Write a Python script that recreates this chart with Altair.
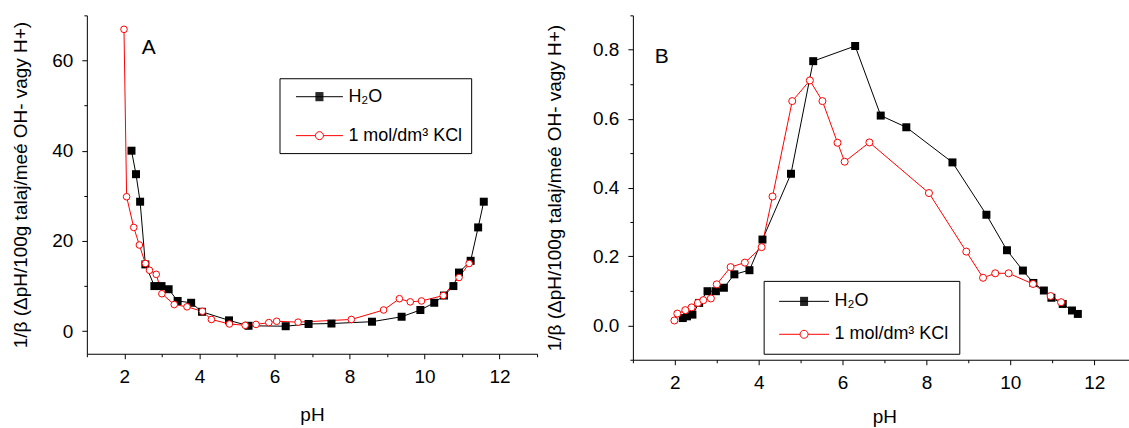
import altair as alt
import pandas as pd

SERIES = ["H₂O", "1 mol/dm³ KCl"]
COLORS = ["#000000", "#ff0000"]
Y_TITLE = "1/β (ΔpH/100g talaj/meé OH- vagy H+)"

# Panel A
A_H2O_PH = [2.19, 2.31, 2.42, 2.56, 2.80, 2.99, 3.18, 3.42, 3.78, 4.07, 4.79, 5.31, 6.30,
            6.91, 7.52, 8.60, 9.39, 9.89, 10.26, 10.52, 10.77, 10.92, 11.23, 11.43, 11.58]
A_H2O_VAL = [40.0, 34.8, 28.7, 14.8, 10.0, 10.0, 9.3, 6.7, 6.3, 4.3, 2.4, 1.2, 1.1,
             1.6, 1.7, 2.1, 3.2, 4.7, 6.3, 7.9, 10.0, 13.0, 15.6, 23.0, 28.7]
A_KCL_PH = [1.99, 2.06, 2.25, 2.40, 2.56, 2.67, 2.85, 3.00, 3.33, 3.67, 4.08, 4.32, 4.80,
            5.22, 5.51, 5.85, 6.06, 6.63, 8.05, 8.91, 9.33, 9.62, 9.92, 10.50, 10.92, 11.19]
A_KCL_VAL = [66.9, 29.8, 23.0, 19.1, 15.0, 13.5, 12.6, 8.3, 5.9, 5.4, 4.4, 2.6, 1.6,
             1.3, 1.5, 1.9, 2.2, 2.0, 2.6, 4.7, 7.2, 6.5, 6.7, 7.9, 11.9, 15.0]

# Panel B
B_H2O_PH = [2.19, 2.29, 2.42, 2.58, 2.78, 2.98, 3.17, 3.42, 3.78, 4.09, 4.77, 5.30, 6.30,
            6.91, 7.52, 8.62, 9.43, 9.92, 10.30, 10.55, 10.80, 10.98, 11.25, 11.47, 11.61]
B_H2O_VAL = [0.021, 0.026, 0.031, 0.065, 0.099, 0.099, 0.109, 0.148, 0.160, 0.249, 0.440,
             0.767, 0.811, 0.609, 0.575, 0.473, 0.321, 0.218, 0.159, 0.123, 0.101, 0.080,
             0.062, 0.043, 0.033]
B_KCL_PH = [1.99, 2.06, 2.25, 2.40, 2.55, 2.68, 2.86, 3.00, 3.33, 3.67, 4.07, 4.33, 4.80,
            5.22, 5.52, 5.88, 6.05, 6.64, 8.06, 8.95, 9.35, 9.64, 9.96, 10.54, 10.96, 11.21]
B_KCL_VAL = [0.014, 0.034, 0.044, 0.052, 0.065, 0.073, 0.078, 0.119, 0.169, 0.182, 0.227,
             0.374, 0.651, 0.711, 0.651, 0.530, 0.475, 0.531, 0.384, 0.214, 0.138, 0.151,
             0.151, 0.120, 0.085, 0.067]

FONT = "Liberation Sans"
SYM_PX = 20  # nominal legend symbol size in px (the glyph paths overflow it)


def legend_paths(left_px, right_px, marker_px=4.0):
    """Legend glyphs (line through a marker), drawn with strokes only.
    Offsets are in px relative to the nominal symbol centre."""
    u = SYM_PX / 2.0
    a, b = left_px / u, right_px / u
    m = (a + b) / 2.0
    q = marker_px / u
    step = 1.0 / u
    n = int(round(2 * q / step)) + 1
    sq = "".join(f"M{m - q:.3f},{-q + k * step:.3f}L{m + q:.3f},{-q + k * step:.3f}"
                 for k in range(n))
    h2o = f"M{a:.3f},0L{b:.3f},0" + sq
    kcl = (f"M{a:.3f},0L{m - q:.3f},0M{m + q:.3f},0L{b:.3f},0"
           f"M{m + q:.3f},0A{q:.3f},{q:.3f},0,1,1,{m - q:.3f},0"
           f"A{q:.3f},{q:.3f},0,1,1,{m + q:.3f},0")
    return [h2o, kcl]


def make_df(h_ph, h_val, k_ph, k_val):
    return pd.DataFrame({
        "series": [SERIES[0]] * len(h_ph) + [SERIES[1]] * len(k_ph),
        "pH": list(h_ph) + list(k_ph),
        "val": list(h_val) + list(k_val),
    })


def panel(df, xdom, xvals, ydom, yvals, ylab_expr, ymajor_test, w, h, legend_xy,
          leg_pad, sym_span, label_off, row_pad, letter, letter_dx, letter_off, ytitle_x,
          xtitle_y, xtitle_x=None, sq_size=64, circ_size=44):
    xaxis = alt.Axis(values=xvals, labelExpr="datum.value % 2 == 0 ? datum.label : ''",
                     tickSize={"condition": {"test": "datum.value % 2 == 0", "value": 5},
                               "value": 3},
                     title="pH", titleY=xtitle_y, titleBaseline="alphabetic",
                     **({"titleX": xtitle_x} if xtitle_x is not None else {}))
    yaxis = alt.Axis(values=yvals, labelExpr=ylab_expr, title=Y_TITLE,
                     tickSize={"condition": {"test": ymajor_test, "value": 5}, "value": 3},
                     titleX=ytitle_x, titleY=h / 2, titleAlign="center",
                     titleBaseline="alphabetic", titleAngle=270)
    x = alt.X("pH:Q", scale=alt.Scale(domain=xdom, nice=False, zero=False), axis=xaxis)
    y = alt.Y("val:Q", scale=alt.Scale(domain=ydom, nice=False, zero=False), axis=yaxis)
    cscale = alt.Scale(domain=SERIES, range=COLORS)

    base = alt.Chart(df)
    h2o = base.transform_filter(alt.datum.series == SERIES[0])
    kcl = base.transform_filter(alt.datum.series == SERIES[1])
    l_h2o = h2o.mark_line(strokeWidth=1, color=COLORS[0]).encode(x=x, y=y, order="pH:Q")
    l_kcl = kcl.mark_line(strokeWidth=1, color=COLORS[1]).encode(x=x, y=y, order="pH:Q")
    p_h2o = h2o.mark_point(shape="square", filled=True, color=COLORS[0], size=sq_size,
                           opacity=1).encode(x=x, y=y)
    p_kcl = kcl.mark_point(shape="circle", filled=False, fill="#ffffff", stroke=COLORS[1],
                           strokeWidth=1, size=circ_size, opacity=1).encode(x=x, y=y)

    leg_df = pd.DataFrame({"series": SERIES, "pH": [None, None], "val": [None, None]})
    legend = alt.Legend(orient="none", legendX=legend_xy[0], legendY=legend_xy[1],
                        title=None, strokeColor="#000000", fillColor="#ffffff",
                        padding=leg_pad, cornerRadius=0, labelFont=FONT, labelFontSize=18,
                        labelColor="#000000", symbolSize=SYM_PX ** 2, symbolStrokeWidth=1,
                        labelOffset=label_off, rowPadding=row_pad,
                        symbolFillColor="transparent")
    leg = alt.Chart(leg_df).mark_point(filled=False, strokeWidth=1, opacity=1).encode(
        x=x, y=y,
        color=alt.Color("series:N", scale=cscale, legend=legend),
        shape=alt.Shape("series:N",
                        scale=alt.Scale(domain=SERIES, range=legend_paths(*sym_span)),
                        legend=legend),
    )
    title = alt.TitleParams(letter, anchor="start", orient="top", frame="group",
                            dx=letter_dx, offset=letter_off, font=FONT, fontSize=21,
                            fontWeight="normal", baseline="alphabetic", color="#000000")
    return alt.layer(l_h2o, l_kcl, p_h2o, p_kcl, leg).properties(width=w, height=h,
                                                                   title=title)


chart_a = panel(make_df(A_H2O_PH, A_H2O_VAL, A_KCL_PH, A_KCL_VAL),
                xdom=[1, 13], xvals=list(range(1, 14)),
                ydom=[-5, 70], yvals=list(range(0, 71, 10)),
                ylab_expr="datum.value % 20 == 0 ? datum.label : ''",
                ymajor_test="datum.value % 20 == 0",
                w=451, h=339, legend_xy=(193, 63), leg_pad=8, sym_span=(-2, 45),
                label_off=40, row_pad=19,
                letter="A", letter_dx=55, letter_off=-60, ytitle_x=-60, xtitle_y=67)

chart_b = panel(make_df(B_H2O_PH, B_H2O_VAL, B_KCL_PH, B_KCL_VAL),
                xdom=[1, 12.83], xvals=list(range(1, 13)),
                ydom=[-0.1, 0.9], yvals=[round(v * 0.1, 1) for v in range(-1, 10)],
                ylab_expr="round(datum.value * 10) % 2 == 0 ? format(datum.value, '.1f') : ''",
                ymajor_test="round(datum.value * 10) % 2 == 0",
                w=497, h=345, legend_xy=(131, 266), leg_pad=10, sym_span=(-5, 45),
                label_off=40, row_pad=13,
                letter="B", letter_dx=22, letter_off=-69, ytitle_x=-73, xtitle_y=63,
                xtitle_x=252, sq_size=64, circ_size=50)

chart = alt.hconcat(chart_a, chart_b, spacing=6).resolve_scale(
    color="independent", shape="independent", x="independent", y="independent"
).configure(
    padding={"left": 11, "top": 14, "right": 0, "bottom": 0},
    background="#ffffff",
    font=FONT,
).configure_view(stroke=None).configure_axis(
    grid=False, domainColor="#000000", domainWidth=1, tickColor="#000000", tickWidth=1,
    labelColor="#000000", labelFont=FONT, labelFontSize=19, labelPadding=9,
    titleColor="#000000", titleFont=FONT, titleFontSize=19, titleFontWeight="normal",
)

chart.save("out.html", embed_options={"renderer": "svg", "actions": False})
